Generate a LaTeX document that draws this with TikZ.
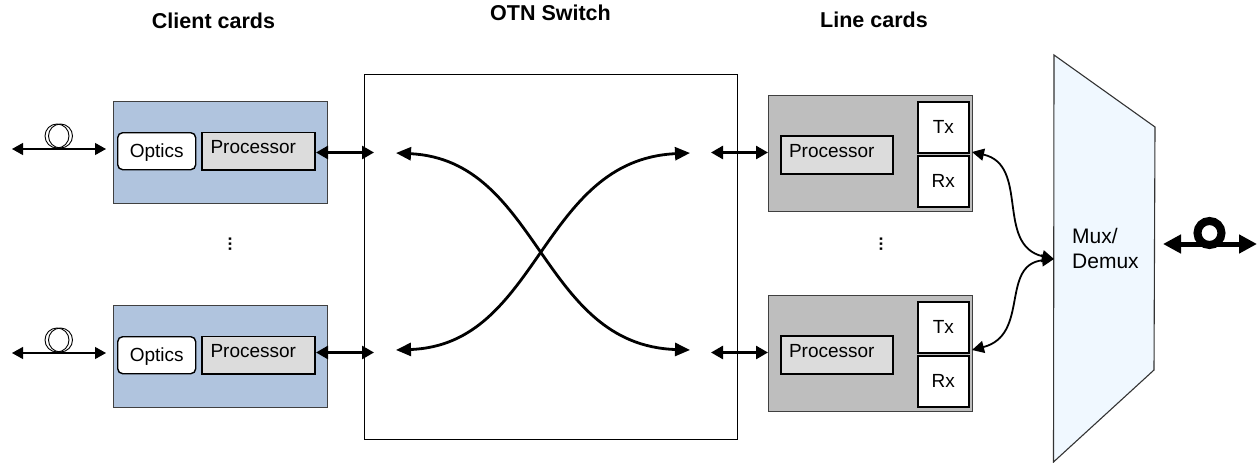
\documentclass[tikz,border=0pt]{standalone}
\usepackage{fontspec}
\setmainfont{Liberation Sans}
\usetikzlibrary{arrows.meta}
\tikzset{
  x=1pt,y=-1pt,
  card/.style={draw=black!75,line width=1.2pt,inner sep=0pt,anchor=north west},
  blue card/.style={card,fill=cardblue},
  grey card/.style={card,fill=cardgrey},
  proc/.style={draw=black,line width=1.6pt,fill=procgrey,inner sep=0pt,anchor=north west,font=\fontsize{19}{21}\selectfont},
  optics/.style={draw=black,line width=1.4pt,fill=white,rounded corners=5pt,inner sep=0pt,anchor=north west,font=\fontsize{19}{21}\selectfont,text height=15pt,text depth=3pt},
  txrx/.style={draw=black,line width=1.6pt,fill=white,inner sep=0pt,anchor=north west,minimum width=51pt,minimum height=51pt,font=\fontsize{19}{21}\selectfont},
  title/.style={font=\fontsize{21.5}{24}\selectfont\bfseries,inner sep=0pt},
  dots/.style={font=\fontsize{17}{18}\selectfont\bfseries,inner sep=0pt},
  thinlink/.style={line width=1.2pt,{Triangle[length=11pt,width=12pt]}-{Triangle[length=11pt,width=12pt]}},
  link/.style={line width=2.6pt,{Triangle[length=12pt,width=13pt]}-{Triangle[length=12pt,width=13pt]}},
  curvelink/.style={line width=1.8pt,{Triangle[length=12pt,width=12pt]}-{Triangle[length=12pt,width=12pt]}},
  cross/.style={line width=2.8pt,{Triangle[length=15pt,width=13pt]}-{Triangle[length=15pt,width=13pt]}},
  loopring/.style={draw=black,line width=.9pt},
}
\definecolor{cardblue}{HTML}{B0C4DE}
\definecolor{cardgrey}{HTML}{BEBEBE}
\definecolor{procgrey}{HTML}{DCDCDC}
\definecolor{muxblue}{HTML}{F0F8FF}
\begin{document}
\begin{tikzpicture}
\useasboundingbox (0,0) rectangle (1259,463);
% titles
\node[title] (t1) at (213.5,21) {Client cards};
\node[title] (t2) at (550.5,13) {OTN Switch};
\node[title] (t3) at (874,20) {Line cards};
% switch
\node[draw=black,line width=1.1pt,fill=white,inner sep=0pt,anchor=north west,minimum width=373pt,minimum height=365pt] (sw) at (364,74) {};
% client cards
\foreach \n/\dy/\ay in {a/0/152.5,b/204/352.5}{
  \node[blue card,minimum width=214pt,minimum height=102pt] (c\n) at (113,101+\dy) {};
  \node[optics,minimum width=78pt,minimum height=37pt] (o\n) at (117,132+\dy) {Optics};
  \node[proc,minimum width=113pt,minimum height=37.5pt,text depth=11pt,text height=15.5pt] (p\n) at (201,131.5+\dy) {Processor\hspace*{10pt}};
  \coordinate (fl\n) at (12,149+\dy);
  \coordinate (fr\n) at (106,149+\dy);
  \coordinate (sl\n) at (374,\ay);
  \coordinate (pe\n) at (316,\ay);
  \draw[thinlink] (fl\n) -- (fr\n);
  \draw[loopring] (57,136+\dy) circle[radius=12pt];
  \draw[loopring] (60.5,136+\dy) circle[radius=12pt];
  \draw[link] (pe\n) -- (sl\n);
}
% line cards
\foreach \n/\dy in {a/0,b/200}{
  \node[grey card,minimum width=204pt,minimum height=116pt] (l\n) at (768,94.5+\dy) {};
  \node[proc,minimum width=112pt,minimum height=38pt,text depth=11pt,text height=15.5pt] (q\n) at (780,135+\dy) {Processor\hspace*{10pt}};
  \node[txrx] (tx\n) at (917,101+\dy) {Tx};
  \node[txrx] (rx\n) at (917,155+\dy) {Rx};
  \coordinate (sr\n) at (711,152.5+\dy);
  \draw[link] (sr\n) -- (l\n.west |- sr\n);
}
% dots
\node[dots] (d1) at (230,244) {\rotatebox{90}{...}};
\node[dots] (d2) at (881,244) {\rotatebox{90}{...}};
% switch crossing
\coordinate (xla) at (396,153);
\coordinate (xlb) at (396,350);
\coordinate (xra) at (690,153);
\coordinate (xrb) at (690,350);
\draw[cross] (xla) .. controls (540,160) and (540,345) .. (xrb);
\draw[cross] (xlb) .. controls (540,345) and (540,160) .. (xra);
% mux
\draw[draw=black!80,line width=1.1pt,fill=muxblue] (1054,55) -- (1155,127) -- (1154,370) -- (1053.5,462) -- cycle;
\node[inner sep=0pt,align=left,font=\fontsize{21}{25}\selectfont,anchor=west] (mux) at (1072,248) {Mux/\\Demux};
\coordinate (mi) at (1054,259);
\coordinate (ta) at (972,152);
\coordinate (tb) at (972,350);
\draw[curvelink] (ta) .. controls (1030,165) and (995,245) .. (mi);
\draw[curvelink] (tb) .. controls (1030,335) and (1000,265) .. (mi);
% output fibre
\coordinate (ol) at (1163,244);
\coordinate (or) at (1257,244);
\draw[line width=5pt,{Triangle[length=18pt,width=18pt]}-{Triangle[length=18pt,width=18pt]}] (ol) -- (or);
\draw[line width=8pt] (1209.5,233) circle[radius=12pt];
\end{tikzpicture}
\end{document}
